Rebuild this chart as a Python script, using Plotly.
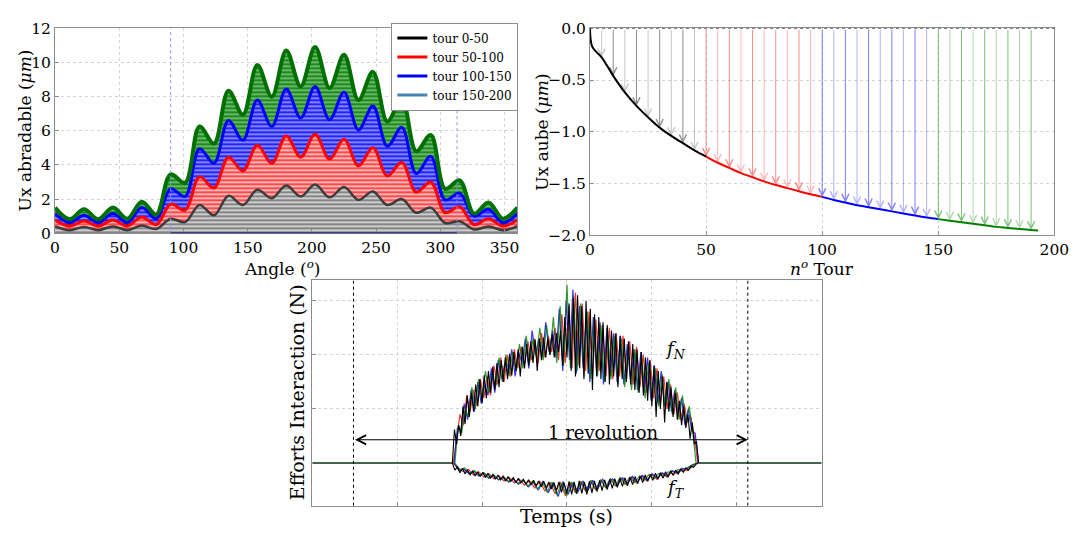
import plotly.graph_objects as go

FONT = "DejaVu Serif"
W, H = 1087, 537

# ---------------- Top-left panel: abradable wear profile ----------------
angles = [0, 11.25, 22.5, 33.75, 45, 56.25, 67.5, 78.75, 90, 101.25, 112.5, 123.75,
          135, 146.25, 157.5, 168.75, 180, 191.25, 202.5, 213.75, 225, 236.25, 247.5,
          258.75, 270, 281.25, 292.5, 303.75, 315, 326.25, 337.5, 348.75, 360]
ux_tour50 = [0.40, 0.18, 0.36, 0.18, 0.40, 0.18, 0.45, 0.25, 0.85, 0.65, 1.65, 1.05,
             2.2, 1.65, 2.55, 2.05, 2.8, 2.15, 2.85, 2.1, 2.7, 1.95, 2.45, 1.65,
             2.0, 1.2, 1.5, 0.6, 0.7, 0.22, 0.4, 0.18, 0.40]
ux_tour100 = [0.78, 0.42, 0.72, 0.42, 0.78, 0.42, 0.95, 0.5, 1.7, 1.35, 3.3, 2.65,
              4.45, 3.65, 5.15, 4.1, 5.7, 4.45, 5.8, 4.35, 5.5, 3.95, 5.0, 3.35,
              4.15, 2.4, 3.0, 1.2, 1.55, 0.5, 0.85, 0.42, 0.78]
ux_tour150 = [1.15, 0.62, 1.05, 0.62, 1.15, 0.62, 1.5, 0.85, 2.6, 2.15, 4.95, 4.1,
              6.6, 5.45, 7.8, 6.25, 8.45, 6.75, 8.6, 6.65, 8.25, 6.05, 7.45, 5.1,
              6.2, 3.5, 4.5, 1.95, 2.35, 1.0, 1.4, 0.62, 1.15]
ux_tour200 = [1.5, 0.82, 1.4, 0.82, 1.5, 0.85, 1.85, 1.1, 3.45, 2.95, 6.25, 5.25,
              8.35, 6.95, 9.85, 8.0, 10.7, 8.6, 10.9, 8.5, 10.45, 7.8, 9.45, 6.55,
              7.85, 4.8, 5.75, 2.6, 3.1, 1.15, 1.8, 0.85, 1.5]
band_names = ["tour 0-50", "tour 50-100", "tour 100-150", "tour 150-200"]
legend_colors = ["#000000", "#ff0000", "#0000ff", "#4682b4"]
contact_angles = [90, 313]

# ---------------- Top-right panel: blade displacement ----------------
tours = [0, 1, 5, 10, 15, 20, 25, 30, 35, 40, 45, 50, 55, 60, 65, 70, 75, 80, 85, 90,
         95, 100, 105, 110, 115, 120, 125, 130, 135, 140, 145, 150, 155, 160, 165,
         170, 175, 180, 185, 190, 193]
ux_aube = [0.0, -0.18, -0.28, -0.46, -0.62, -0.75, -0.86, -0.96, -1.04, -1.11, -1.18,
           -1.24, -1.30, -1.35, -1.40, -1.44, -1.48, -1.515, -1.545, -1.575, -1.605,
           -1.63, -1.66, -1.685, -1.71, -1.73, -1.75, -1.77, -1.79, -1.81, -1.83,
           -1.845, -1.86, -1.875, -1.89, -1.905, -1.92, -1.93, -1.94, -1.95, -1.955]
segment_bounds = [0, 50, 100, 150, 200]
segment_colors = ["#000000", "#ff0000", "#0000ff", "#008000"]
arrow_colors = [("rgba(0,0,0,0.45)", "rgba(0,0,0,0.22)"),
                ("rgba(255,0,0,0.45)", "rgba(255,0,0,0.28)"),
                ("rgba(0,0,255,0.5)", "rgba(0,0,255,0.3)"),
                ("rgba(0,128,0,0.5)", "rgba(0,128,0,0.3)")]

# ---------------- Bottom panel: interaction forces ----------------
time_range = [0, 6]
contact_window = [1.65, 4.55]
revolution = [0.486, 5.13]
fn_black = [0.00, 0.62, 0.35, 0.70, 0.50, 1.05, 0.72, 1.25, 0.85, 1.30, 0.95, 1.45, 1.05,
            1.55, 1.10, 1.62, 1.20, 1.70, 1.30, 1.78, 1.35, 1.85, 1.40, 1.90, 1.50, 1.95,
            1.55, 2.02, 1.62, 2.05, 1.70, 2.10, 1.60, 2.15, 1.75, 2.20, 1.80, 2.25, 1.85,
            2.28, 1.70, 2.30, 1.90, 2.32, 1.95, 2.30, 2.00, 2.38, 1.95, 2.40, 2.05, 2.45,
            1.80, 2.70, 1.95, 2.95, 1.70, 3.05, 1.60, 3.10, 1.75, 2.90, 1.55, 3.00, 1.65,
            2.85, 1.35, 2.75, 1.60, 2.70, 1.55, 2.60, 1.50, 2.55, 1.45, 2.45, 1.60, 2.40,
            1.40, 2.35, 1.55, 2.30, 1.50, 2.25, 1.45, 2.20, 1.35, 2.10, 1.30, 2.05, 1.25,
            1.95, 1.15, 1.90, 1.05, 1.80, 0.85, 1.70, 1.00, 1.60, 0.75, 1.50, 0.95, 1.40,
            0.85, 1.30, 0.80, 1.15, 0.70, 1.05, 0.65, 0.90, 0.45, 0.75, 0.35, 0.40, 0.00]
fn_red = [0.0, 0.5, 0.9, 0.7, 1.25, 0.95, 1.35, 1.05, 1.55, 1.2, 1.6, 1.25, 1.8, 1.45,
          1.95, 1.5, 2.0, 1.6, 2.1, 1.75, 2.15, 1.8, 2.25, 1.9, 2.3, 1.85, 2.4, 1.95, 2.35,
          2.05, 2.5, 1.9, 2.75, 1.85, 2.9, 1.75, 3.15, 1.8, 2.95, 1.7, 2.8, 1.6, 2.65, 1.7,
          2.55, 1.6, 2.5, 1.55, 2.4, 1.6, 2.35, 1.55, 2.25, 1.45, 2.15, 1.4, 2.0, 1.3, 1.9,
          1.2, 1.75, 1.1, 1.6, 1.0, 1.45, 0.9, 1.3, 0.8, 1.1, 0.75, 0.85, 0.5, 0.0]
fn_blue = [0.0, 0.65, 0.6, 1.1, 0.8, 1.35, 0.95, 1.5, 1.1, 1.45, 1.25, 1.75, 1.3, 1.9,
           1.55, 1.85, 1.65, 2.1, 1.6, 2.05, 1.85, 2.3, 1.75, 2.45, 2.0, 2.3, 1.95, 2.6,
           2.05, 2.45, 1.95, 2.85, 1.7, 3.0, 1.9, 3.2, 1.65, 2.9, 1.75, 2.75, 1.5, 2.7,
           1.65, 2.6, 1.45, 2.5, 1.6, 2.4, 1.5, 2.35, 1.45, 2.2, 1.5, 2.1, 1.35, 2.05, 1.3,
           1.95, 1.15, 1.8, 1.1, 1.7, 1.05, 1.5, 0.95, 1.35, 0.9, 1.2, 0.7, 1.0, 0.6, 0.55, 0.0]
fn_green = [0.0, 0.7, 0.55, 1.0, 0.85, 1.4, 1.0, 1.55, 1.15, 1.7, 1.3, 1.65, 1.4, 1.95,
            1.5, 2.0, 1.6, 2.05, 1.7, 2.2, 1.75, 2.35, 1.85, 2.3, 1.95, 2.5, 1.9, 2.55,
            2.0, 2.7, 1.85, 2.9, 1.8, 3.3, 1.75, 3.1, 1.7, 2.95, 1.6, 2.8, 1.55, 2.7, 1.6,
            2.55, 1.5, 2.45, 1.55, 2.35, 1.45, 2.3, 1.4, 2.15, 1.35, 2.1, 1.3, 2.0, 1.2,
            1.85, 1.15, 1.75, 1.05, 1.65, 1.0, 1.55, 0.9, 1.4, 0.8, 1.25, 0.75, 1.05, 0.6, 0.0]
ft_black = [0.0, -0.13, -0.07, -0.18, -0.10, -0.20, -0.13, -0.22, -0.15, -0.24, -0.16,
            -0.25, -0.17, -0.27, -0.19, -0.28, -0.21, -0.30, -0.22, -0.31, -0.24, -0.33,
            -0.25, -0.34, -0.27, -0.36, -0.28, -0.37, -0.30, -0.39, -0.31, -0.40, -0.32,
            -0.42, -0.33, -0.44, -0.34, -0.46, -0.35, -0.48, -0.36, -0.50, -0.35, -0.54,
            -0.36, -0.56, -0.34, -0.58, -0.35, -0.57, -0.33, -0.56, -0.35, -0.58, -0.34,
            -0.55, -0.33, -0.53, -0.32, -0.51, -0.31, -0.49, -0.30, -0.47, -0.29, -0.45,
            -0.28, -0.43, -0.27, -0.42, -0.26, -0.40, -0.25, -0.38, -0.24, -0.36, -0.22,
            -0.34, -0.21, -0.32, -0.19, -0.30, -0.18, -0.28, -0.16, -0.26, -0.14, -0.23,
            -0.13, -0.20, -0.11, -0.17, -0.09, -0.13, -0.06, -0.08, -0.02, 0.0]
ft_red = [0.0, -0.10, -0.16, -0.12, -0.22, -0.16, -0.26, -0.20, -0.29, -0.24, -0.33, -0.27,
          -0.37, -0.30, -0.41, -0.33, -0.46, -0.34, -0.52, -0.36, -0.57, -0.35, -0.60,
          -0.36, -0.55, -0.34, -0.52, -0.33, -0.50, -0.31, -0.46, -0.30, -0.43, -0.28,
          -0.40, -0.26, -0.37, -0.24, -0.33, -0.21, -0.30, -0.19, -0.26, -0.15, -0.20,
          -0.12, -0.14, -0.06, 0.0]
ft_blue = [0.0, -0.14, -0.11, -0.20, -0.15, -0.24, -0.19, -0.28, -0.23, -0.31, -0.27, -0.35,
           -0.30, -0.39, -0.32, -0.44, -0.35, -0.50, -0.33, -0.55, -0.37, -0.62, -0.34,
           -0.58, -0.36, -0.54, -0.33, -0.51, -0.32, -0.48, -0.30, -0.44, -0.29, -0.41,
           -0.27, -0.38, -0.25, -0.35, -0.23, -0.31, -0.20, -0.28, -0.18, -0.24, -0.14,
           -0.18, -0.10, -0.11, -0.04, 0.0]
ft_green = [0.0, -0.12, -0.09, -0.19, -0.14, -0.23, -0.18, -0.27, -0.22, -0.31, -0.25,
            -0.34, -0.29, -0.38, -0.31, -0.43, -0.34, -0.48, -0.36, -0.54, -0.35, -0.59,
            -0.37, -0.61, -0.35, -0.56, -0.34, -0.52, -0.32, -0.49, -0.31, -0.45, -0.29,
            -0.42, -0.27, -0.39, -0.26, -0.36, -0.24, -0.32, -0.21, -0.29, -0.19, -0.25,
            -0.16, -0.21, -0.12, -0.15, -0.08, -0.03, 0.0]

fig = go.Figure()

# ---- top-left bands
bands = [ux_tour50, ux_tour100, ux_tour150, ux_tour200]
band_styles = [
    dict(bg="#858585", fg="#ffffff", line="#3c3c3c", sol=0.3, lw=2.5),
    dict(bg="#ff4a4a", fg="#ffffff", line="#ff0000", sol=0.3, lw=3),
    dict(bg="#2424ff", fg="#ffffff", line="#0000ff", sol=0.22, lw=3),
    dict(bg="#1c8c1c", fg="#9fd39f", line="#007000", sol=0.3, lw=4),
]
for i, (vals, st) in enumerate(zip(bands, band_styles)):
    fig.add_trace(go.Scatter(
        x=angles, y=vals, xaxis="x", yaxis="y", mode="lines",
        line=dict(color=st["line"], width=st["lw"], shape="spline"),
        fill="tozeroy" if i == 0 else "tonexty",
        fillpattern=dict(shape="-", bgcolor=st["bg"], fgcolor=st["fg"], size=4,
                         solidity=st["sol"], fillmode="replace"),
        showlegend=False, hoverinfo="skip"))
for name, col in zip(band_names, legend_colors):
    fig.add_trace(go.Scatter(x=[None], y=[None], xaxis="x", yaxis="y", mode="lines",
                             line=dict(color=col, width=3), name=name))

# ---- top-right curve segments
for k in range(4):
    lo, hi = segment_bounds[k], segment_bounds[k + 1]
    xs = [t for t in tours if lo <= t <= hi]
    ys = [u for t, u in zip(tours, ux_aube) if lo <= t <= hi]
    fig.add_trace(go.Scatter(x=xs, y=ys, xaxis="x2", yaxis="y2", mode="lines",
                             line=dict(color=segment_colors[k], width=2, shape="spline"),
                             showlegend=False, hoverinfo="skip"))

# ---- bottom force signals
def spread(vals, start, end):
    n = len(vals)
    return [start + (end - start) * i / (n - 1) for i in range(n)]

fig.add_trace(go.Scatter(
    x=[time_range[0], contact_window[0], None, contact_window[1], time_range[1]],
    y=[0, 0, None, 0, 0], xaxis="x3", yaxis="y3", mode="lines",
    line=dict(color="#45654d", width=2), showlegend=False, hoverinfo="skip"))
series = [
    (fn_red, 1.66, 4.54, "rgba(255,0,0,0.8)", 1.2),
    (fn_blue, 1.67, 4.55, "rgba(0,0,255,0.8)", 1.2),
    (fn_green, 1.68, 4.52, "rgba(0,128,0,0.8)", 1.2),
    (ft_red, 1.66, 4.54, "rgba(255,0,0,0.8)", 1.2),
    (ft_blue, 1.67, 4.53, "rgba(0,0,255,0.8)", 1.2),
    (ft_green, 1.68, 4.54, "rgba(0,128,0,0.8)", 1.2),
    (fn_black, contact_window[0], contact_window[1], "#000000", 1.1),
    (ft_black, contact_window[0], contact_window[1], "#000000", 1.1),
]
for vals, s, e, col, lw in series:
    fig.add_trace(go.Scatter(x=spread(vals, s, e), y=vals, xaxis="x3", yaxis="y3",
                             mode="lines", line=dict(color=col, width=lw),
                             showlegend=False, hoverinfo="skip"))

# ---- annotations
ann = []
for t, u in zip(tours, ux_aube):
    if t % 5 != 0 or t == 0:
        continue
    k = min(t // 50, 3)
    col = arrow_colors[k][(t // 5) % 2]
    ann.append(dict(x=t, y=u, ax=t, ay=0, xref="x2", yref="y2", axref="x2", ayref="y2",
                    text="", showarrow=True, arrowhead=5, arrowsize=1.4, arrowwidth=1,
                    arrowcolor=col, standoff=0))
ann.append(dict(x=revolution[1], y=0.43, ax=revolution[0], ay=0.43, xref="x3", yref="y3",
                axref="x3", ayref="y3", text="", showarrow=True, arrowhead=5,
                startarrowhead=5, arrowside="end+start", arrowsize=1.8, startarrowsize=1.8,
                arrowwidth=1, arrowcolor="#000000", standoff=0, startstandoff=0))
ann.append(dict(x=3.43, y=0.57, xref="x3", yref="y3", text="1 revolution", showarrow=False,
                font=dict(family=FONT, size=18, color="black")))
ann.append(dict(x=4.28, y=2.09, xref="x3", yref="y3", text="<i>f</i><sub><i>N</i></sub>",
                showarrow=False, font=dict(family=FONT, size=18, color="black")))
ann.append(dict(x=4.28, y=-0.48, xref="x3", yref="y3", text="<i>f</i><sub><i>T</i></sub>",
                showarrow=False, font=dict(family=FONT, size=18, color="black")))

def title_ann(text, xpx, ypx, angle=0, size=17):
    return dict(x=xpx / W, y=1 - ypx / H, xref="paper", yref="paper", text=text,
                showarrow=False, textangle=angle, xanchor="center", yanchor="middle",
                font=dict(family=FONT, size=size, color="black"))

ann += [
    title_ann("Ux abradable (<i>μm</i>)", 20, 126, -90),
    title_ann("Angle (<i><sup>o</sup></i>)", 282, 268),
    title_ann("Ux aube (<i>μm</i>)", 547, 127, -90),
    title_ann("<i>n<sup>o</sup></i> Tour", 832, 268),
    title_ann("Efforts Interaction (N)", 297, 397, -90, 19),
    title_ann("Temps (s)", 572, 525, 0, 19),
]

shapes = []
for a in contact_angles:
    shapes.append(dict(type="line", xref="x", yref="y", x0=a, x1=a, y0=0, y1=12,
                       line=dict(color="#8f8fff", width=1, dash="3px,3px"), layer="above"))
shapes.append(dict(type="line", xref="x", yref="y", x0=contact_angles[0], x1=contact_angles[1],
                   y0=0, y1=0, line=dict(color="#00008b", width=1.5), layer="above"))
shapes.append(dict(type="line", xref="x2", yref="y2", x0=0, x1=200, y0=0, y1=0,
                   line=dict(color="#333333", width=1, dash="3px,3px"), layer="above"))
for r in revolution:
    shapes.append(dict(type="line", xref="x3", yref="y3", x0=r, x1=r, y0=-0.79, y1=3.39,
                       line=dict(color="#000000", width=1, dash="3px,3px"), layer="above"))

axis_common = dict(showline=True, mirror=True, linecolor="#8c8c8c", linewidth=1,
                   showgrid=True, gridcolor="#d4d4d4", griddash="dot", gridwidth=1,
                   zeroline=False, ticks="inside", ticklen=4, tickcolor="#8c8c8c",
                   tickfont=dict(family=FONT, size=15.5, color="black"))

fig.update_layout(
    width=W, height=H, margin=dict(l=0, r=0, t=0, b=0),
    paper_bgcolor="white", plot_bgcolor="white",
    font=dict(family=FONT, color="black"),
    xaxis=dict(domain=[51 / W, 522 / W], range=[0, 360], tickvals=[0, 50, 100, 150, 200, 250, 300, 350],
               anchor="y", **axis_common),
    yaxis=dict(domain=[1 - 232 / H, 1 - 20 / H], range=[0, 12], tickvals=[0, 2, 4, 6, 8, 10, 12],
               anchor="x", **axis_common),
    xaxis2=dict(domain=[596 / W, 1069 / W], range=[0, 200], tickvals=[0, 50, 100, 150, 200],
                anchor="y2", **axis_common),
    yaxis2=dict(domain=[1 - 234 / H, 1 - 20 / H], range=[-2, 0],
                tickvals=[0, -0.5, -1, -1.5, -2],
                ticktext=["0.0", "−0.5", "−1.0", "−1.5", "−2.0"], anchor="x2", **axis_common),
    xaxis3=dict(domain=[313 / W, 832 / W], range=time_range, tickvals=[1, 2, 3, 4, 5],
                showticklabels=False, anchor="y3", **axis_common),
    yaxis3=dict(domain=[1 - 514 / H, 1 - 280 / H], range=[-0.79, 3.39], tickvals=[1, 2, 3],
                showticklabels=False, anchor="x3", **axis_common),
    legend=dict(x=523 / W, xanchor="right", y=1 - 14 / H, yanchor="top",
                bgcolor="white", bordercolor="#8c8c8c", borderwidth=1,
                font=dict(family=FONT, size=12, color="black"),
                tracegroupgap=0, itemwidth=30, traceorder="normal"),
    annotations=ann, shapes=shapes,
)

fig.write_html("out.html", config={"displayModeBar": False},
               post_script="document.body.style.margin='0';")
